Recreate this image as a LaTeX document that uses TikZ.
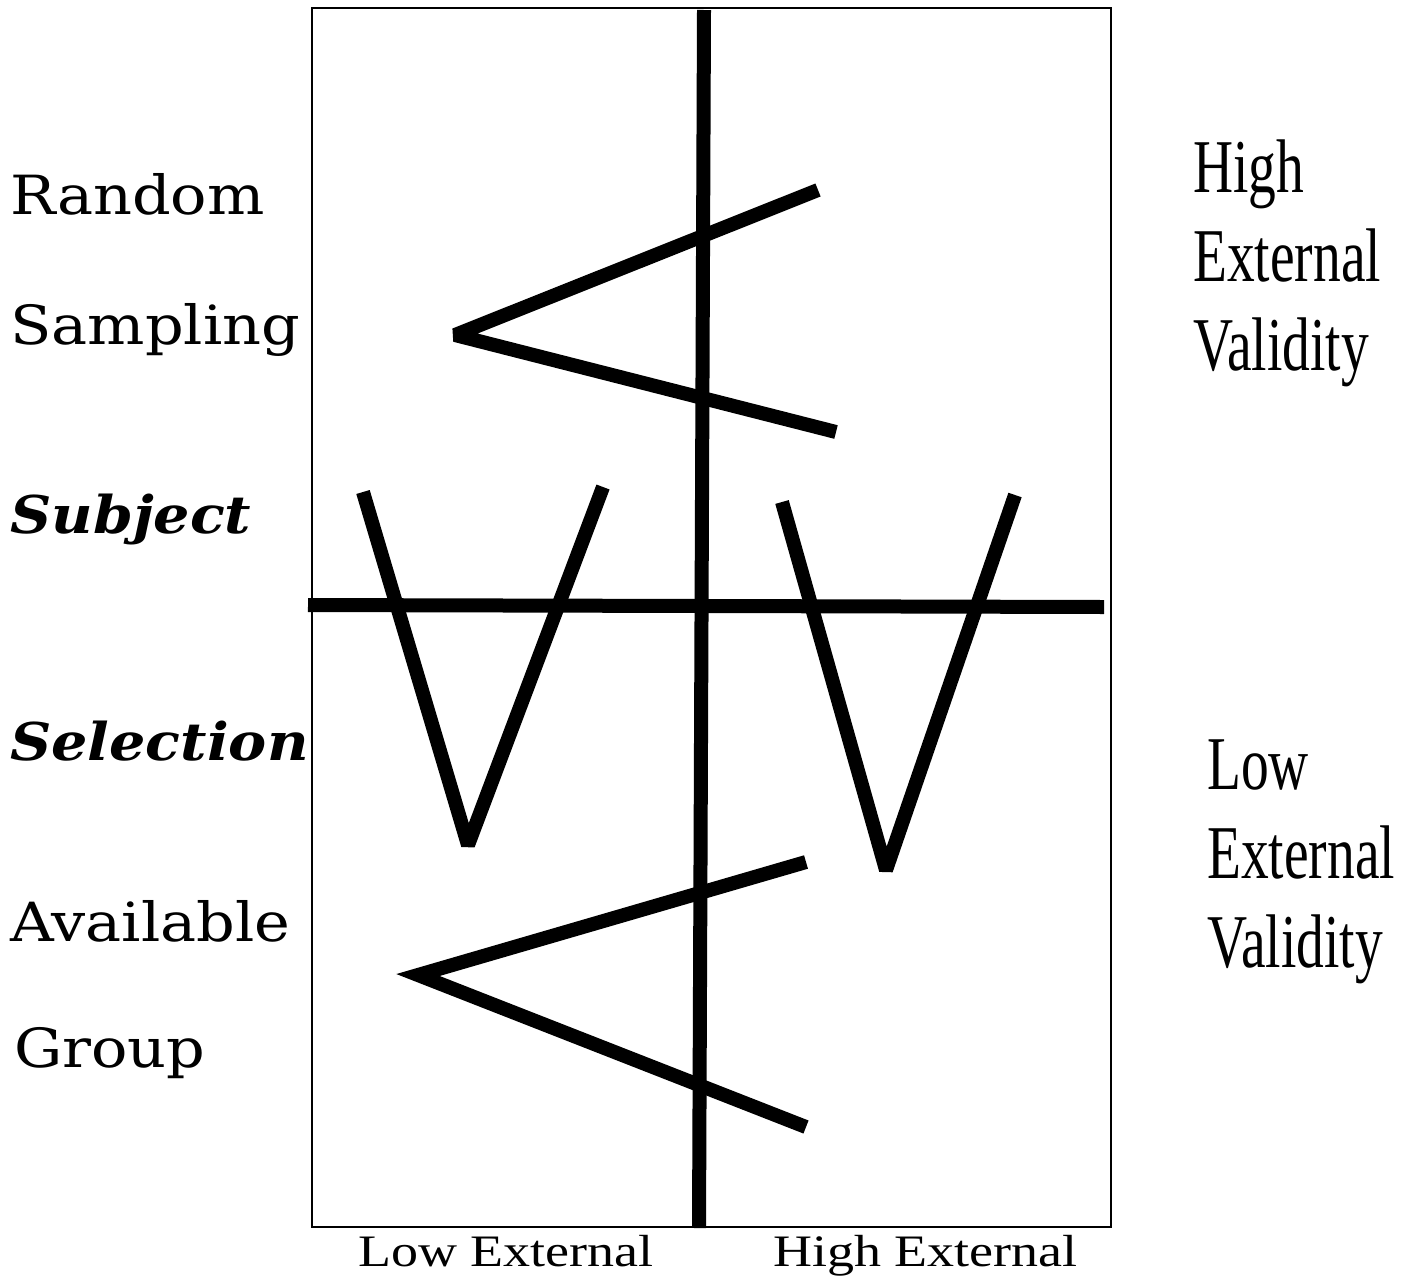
\documentclass[tikz,border=0pt]{standalone}
\usepackage{fontspec}
\newfontfamily\sidefont[FakeStretch=1.12]{DejaVu Serif}
\newfontfamily\keyfont[FakeStretch=1.10]{DejaVu Serif}
\newfontfamily\valfont[FakeStretch=0.73]{Liberation Serif}
\newfontfamily\axisfont[FakeStretch=1.2]{Liberation Serif}

\begin{document}
\begin{tikzpicture}[
        x=1pt, y=-1pt,
        frame/.style={draw, line width=1.5pt},
        bar/.style={line width=14pt},
        zig/.style={line width=14pt, line join=#1},
        zig/.default=bevel,
        sidelbl/.style={anchor=base west, inner sep=0, font=\sidefont\fontsize{54}{60}\selectfont},
        keylbl/.style={anchor=base west, inner sep=0, font=\keyfont\bfseries\itshape\fontsize{52}{60}\selectfont},
        vallbl/.style={anchor=north west, inner sep=0, align=left, font=\valfont\fontsize{76}{89}\selectfont},
        axislbl/.style={anchor=base west, inner sep=0, font=\axisfont\fontsize{45}{54}\selectfont},
    ]
    \useasboundingbox (0,0) rectangle (1407,1277);

    % Frame
    \draw[frame] (312,8) rectangle (1111,1227);

    % Axes
    \coordinate (vtop) at (704,10);
    \coordinate (vbot) at (699,1228);
    \coordinate (hleft) at (308,605);
    \coordinate (hright) at (1104,607);
    \draw[bar] (vtop) -- (vbot);
    \draw[bar] (hleft) -- (hright);

    % Upper arrow head
    \coordinate (ua) at (818,190);
    \coordinate (ub) at (455,335);
    \coordinate (uc) at (836,432);
    \draw[zig] (ua) -- (ub) -- (uc);

    % Left and right V
    \coordinate (la) at (363,492);
    \coordinate (lb) at (468,845);
    \coordinate (lc) at (603,487);
    \draw[zig] (la) -- (lb) -- (lc);
    \coordinate (ra) at (782,502);
    \coordinate (rb) at (886,870);
    \coordinate (rc) at (1015,495);
    \draw[zig] (ra) -- (rb) -- (rc);

    % Lower arrow head
    \coordinate (da) at (806,862);
    \coordinate (db) at (418,975);
    \coordinate (dc) at (806,1127);
    \draw[zig=miter] (da) -- (db) -- (dc);

    % Row labels
    \node[sidelbl] (random) at (10,214) {Random};
    \node[sidelbl] (sampling) at (10,344) {Sampling};
    \node[keylbl] (subject) at (10,533) {Subject};
    \node[keylbl] (selection) at (10,760) {Selection};
    \node[sidelbl] (available) at (10,941) {Available};
    \node[sidelbl] (group) at (14,1067) {Group};

    % Validity labels
    \node[vallbl] (highval) at (1193,140) {High\\External\\Validity};
    \node[vallbl] (lowval) at (1207,740) {Low\\External\\Validity};

    % Column labels
    \node[axislbl] (lowcol) at (358,1266) {Low External};
    \node[axislbl] (highcol) at (773,1266) {High External};
\end{tikzpicture}
\end{document}
